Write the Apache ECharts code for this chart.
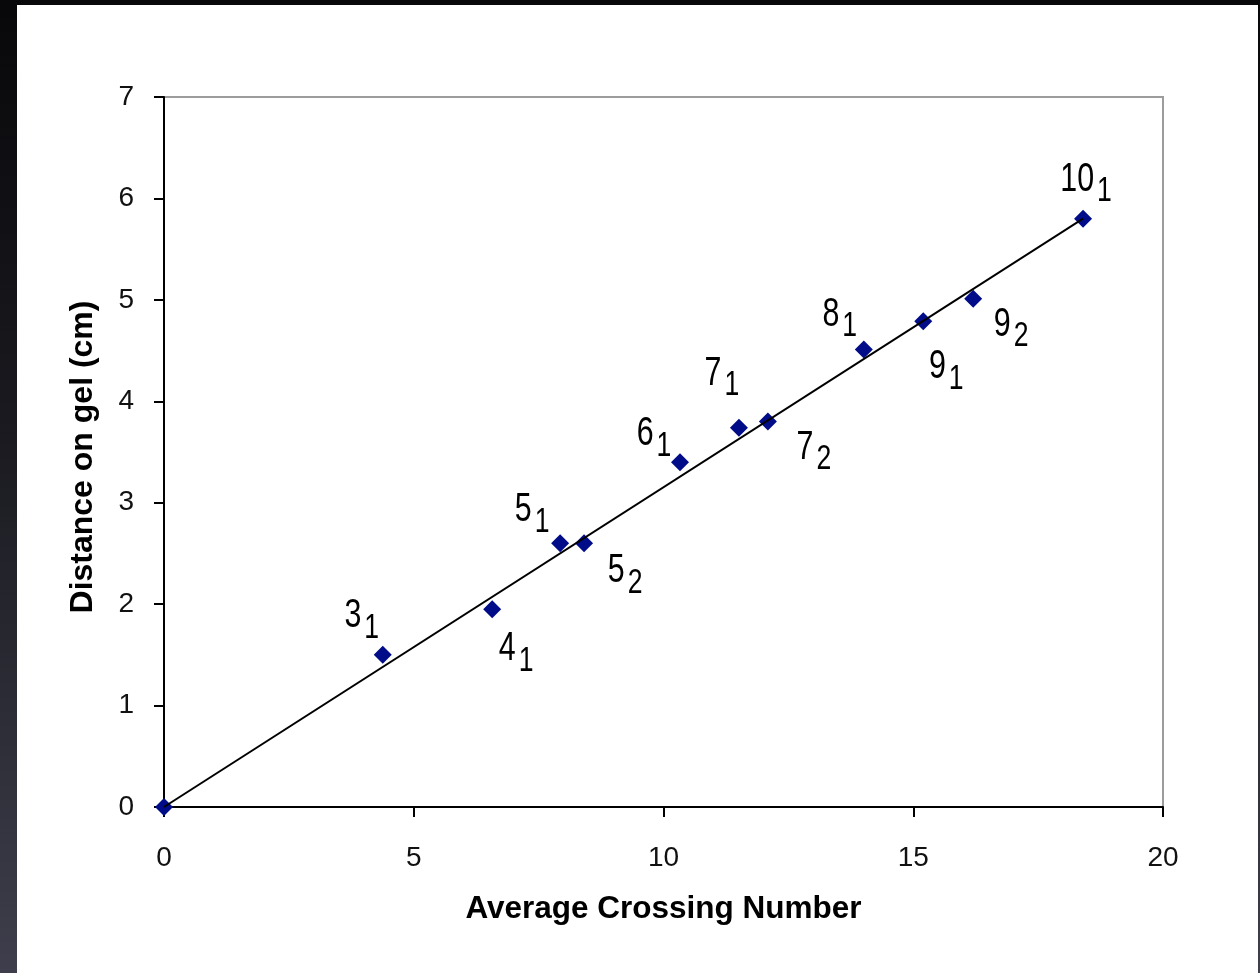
<!DOCTYPE html>
<html>
<head>
<meta charset="utf-8">
<title>Distance on gel vs Average Crossing Number</title>
<script src="https://cdn.jsdelivr.net/npm/echarts@6/dist/echarts.min.js"></script>
<style>
  html, body { margin: 0; padding: 0; width: 1260px; height: 973px; overflow: hidden; }
  body { background: linear-gradient(to bottom, #08080a 0%, #1a1a20 45%, #3e3e4c 100%); position: relative; }
  #panel { position: absolute; left: 17px; top: 5px; width: 1241px; height: 968px; background: #ffffff; }
  #chart { position: absolute; left: 0; top: 0; width: 1260px; height: 973px; }
</style>
</head>
<body>
<div id="panel"></div>
<div id="chart"></div>
<script>
// Knot types: main number and subscript index
const knotNumbers = ['3', '4', '5', '5', '6', '7', '7', '8', '9', '9', '10'];
const knotIndices = ['1', '1', '1', '2', '1', '1', '2', '1', '1', '2', '1'];
// Average crossing number of each knot
const crossingNumbers = [4.38, 6.57, 7.93, 8.41, 10.33, 11.51, 12.09, 14.01, 15.2, 16.2, 18.4];
// Distance travelled on the gel (cm)
const gelDistances = [1.5, 1.95, 2.6, 2.6, 3.4, 3.74, 3.8, 4.51, 4.79, 5.01, 5.8];
// Fitted line through the origin
const fitX = [0, 18.4];
const fitY = [0, 5.8];
// Axis ticks
const xTicks = [0, 5, 10, 15, 20];
const yTicks = [0, 1, 2, 3, 4, 5, 6, 7];

// Label placement around each marker (pixels, centre of the label box)
const labelOffsets = [
  [-21, -34], [24, 45], [-28, -28], [41, 33], [-26, -23], [-17, -49],
  [46, 31], [-24, -30], [23, 51], [38, 31], [3, -34]
];

const chart = echarts.init(document.getElementById('chart'), null, { renderer: 'canvas' });

const tickFont = { fontFamily: 'Liberation Sans', fontSize: 28, color: '#111111' };
const titleFont = { fontFamily: 'Liberation Sans', fontWeight: 'bold', fontSize: 31, color: '#000000' };

// Knot labels: condensed digits with a lowered subscript
const MAIN_SIZE = 40, SUB_SIZE = 35, SQUEEZE = 0.76, DIGIT = 0.556;
function renderKnotLabel(params, api) {
  const i = api.value(2);
  const p = api.coord([api.value(0), api.value(1)]);
  const main = knotNumbers[i], sub = knotIndices[i];
  const mainW = main.length * DIGIT * MAIN_SIZE * SQUEEZE;
  const subW = sub.length * DIGIT * SUB_SIZE * SQUEEZE;
  const gap = 3;
  const cx = p[0] + labelOffsets[i][0];
  const cy = p[1] + labelOffsets[i][1];
  const left = cx - (mainW + gap + subW) / 2;
  const font = 'Liberation Sans';
  return {
    type: 'group',
    children: [
      {
        type: 'text', x: left, y: cy - 5, scaleX: SQUEEZE, scaleY: 1,
        style: { text: main, fontFamily: font, fontSize: MAIN_SIZE, fill: '#000000', align: 'left', verticalAlign: 'middle' }
      },
      {
        type: 'text', x: left + mainW + gap, y: cy + 7, scaleX: SQUEEZE, scaleY: 1,
        style: { text: sub, fontFamily: font, fontSize: SUB_SIZE, fill: '#000000', align: 'left', verticalAlign: 'middle' }
      }
    ]
  };
}

chart.setOption({
  backgroundColor: 'transparent',
  animation: false,
  grid: {
    left: 164, top: 97, right: 97, bottom: 166,
    show: true, borderColor: '#9c9c9c', borderWidth: 2, backgroundColor: 'transparent'
  },
  xAxis: {
    type: 'value',
    min: xTicks[0], max: xTicks[xTicks.length - 1], interval: xTicks[1] - xTicks[0],
    name: 'Average Crossing Number',
    nameLocation: 'middle', nameGap: 86,
    nameTextStyle: Object.assign({}, titleFont, { fontSize: 31.5 }),
    axisLine: { show: true, onZero: false, lineStyle: { color: '#000000', width: 2 } },
    axisTick: { show: true, inside: false, length: 10, lineStyle: { color: '#000000', width: 2 } },
    axisLabel: Object.assign({ margin: 37 }, tickFont),
    splitLine: { show: false }
  },
  yAxis: {
    type: 'value',
    min: yTicks[0], max: yTicks[yTicks.length - 1], interval: yTicks[1] - yTicks[0],
    name: 'Distance on gel (cm)',
    nameLocation: 'middle', nameGap: 65, nameRotate: 90,
    nameTextStyle: Object.assign({}, titleFont, { fontSize: 32, padding: [0, 10, 0, 0] }),
    axisLine: { show: true, onZero: false, lineStyle: { color: '#000000', width: 2 } },
    axisTick: { show: true, inside: false, length: 10, lineStyle: { color: '#000000', width: 2 } },
    axisLabel: Object.assign({ margin: 30 }, tickFont),
    splitLine: { show: false }
  },
  series: [
    {
      type: 'scatter',
      data: [[0, 0]].concat(crossingNumbers.map((x, i) => [x, gelDistances[i]])),
      symbol: 'diamond',
      symbolSize: [18, 18],
      itemStyle: { color: '#000c88', opacity: 1 },
      z: 2
    },
    {
      type: 'line',
      data: fitX.map((x, i) => [x, fitY[i]]),
      symbol: 'none',
      lineStyle: { color: '#000000', width: 2 },
      z: 3,
      silent: true
    },
    {
      type: 'custom',
      data: crossingNumbers.map((x, i) => [x, gelDistances[i], i]),
      encode: { x: 0, y: 1 },
      renderItem: renderKnotLabel,
      z: 4,
      silent: true
    }
  ]
});
</script>
</body>
</html>
